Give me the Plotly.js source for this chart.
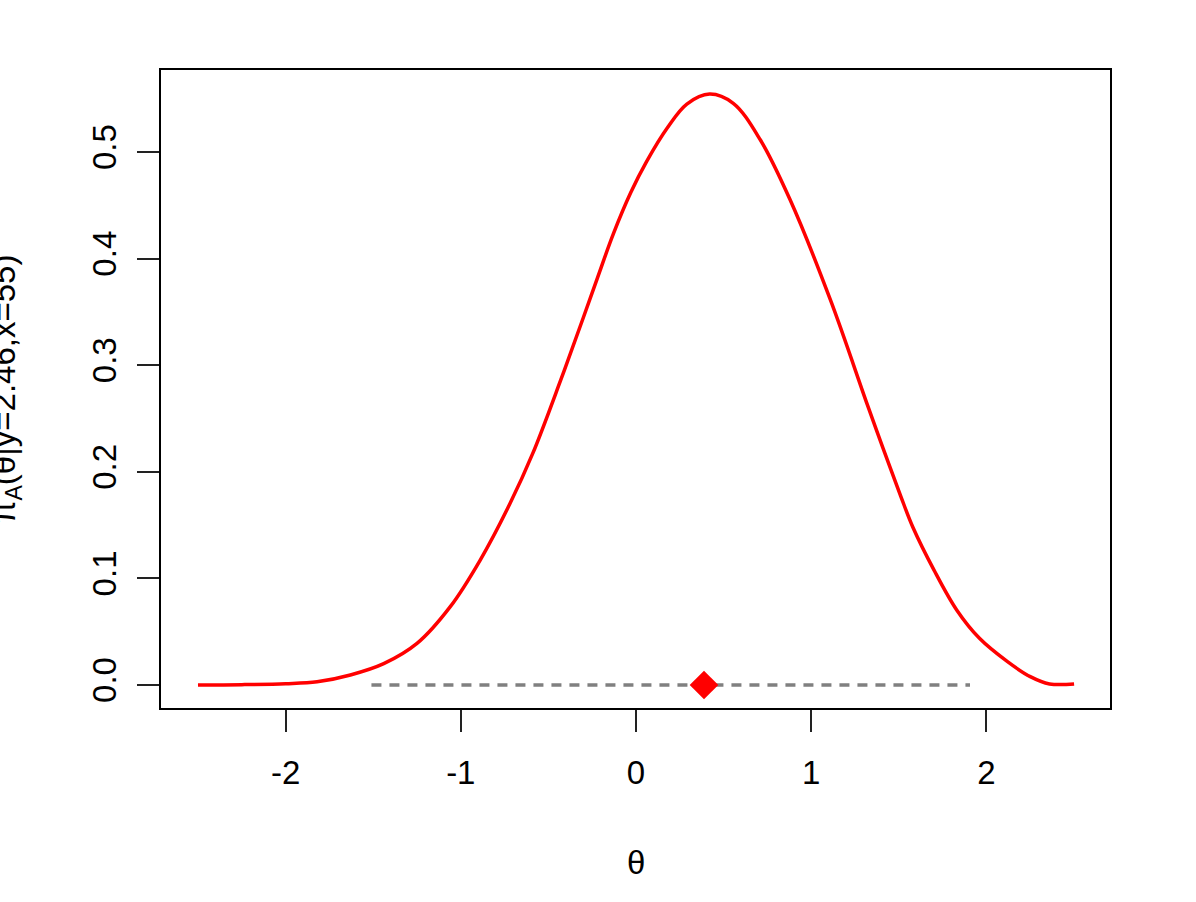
<!DOCTYPE html>
<html>
<head>
<meta charset="utf-8">
<script src="https://cdn.plot.ly/plotly-3.0.1.min.js"></script>
<style>
  html, body { margin: 0; padding: 0; background: #fff; }
  #plot { width: 1196px; height: 902px; }
</style>
</head>
<body>
<div id="plot"></div>
<script>
// posterior density
const thetaVals = [-2.5, -2.25, -2.0, -1.82, -1.63, -1.44, -1.25, -1.06, -0.89, -0.72, -0.59, -0.43, -0.30, -0.22, -0.13,
  -0.03, 0.06, 0.18, 0.29, 0.42, 0.555, 0.71, 0.88, 1.11, 1.32, 1.41, 1.51, 1.58, 1.70, 1.83, 1.96, 2.12, 2.25, 2.36, 2.5];
const densVals = [0.0, 0.0003, 0.0012, 0.003, 0.0094, 0.020, 0.039, 0.0735, 0.117, 0.170, 0.217, 0.286, 0.345, 0.382, 0.423,
  0.462, 0.491, 0.523, 0.545, 0.5544, 0.5457, 0.5113, 0.455, 0.361, 0.263, 0.222, 0.1775, 0.148, 0.108, 0.0704, 0.0438, 0.0219, 0.0078, 0.001, 0.001];

// interval (dashed) and point estimate (diamond)
const intervalX = [-1.51, 1.906];
const intervalY = [0, 0];
const estX = [0.388];
const estY = [0];

const xTicks = [-2, -1, 0, 1, 2];
const xTickText = ['-2', '-1', '0', '1', '2'];
const yTicks = [0, 0.1, 0.2, 0.3, 0.4, 0.5];
const yTickText = ['0.0', '0.1', '0.2', '0.3', '0.4', '0.5'];

const fontFam = 'Liberation Sans, Arial, sans-serif';

const traces = [
  {x: intervalX, y: intervalY, type: 'scatter', mode: 'lines',
   line: {color: '#808080', width: 3.5, dash: '10px,8px'}, hoverinfo: 'skip'},
  {x: thetaVals, y: densVals, type: 'scatter', mode: 'lines',
   line: {color: '#ff0000', width: 3.5, shape: 'spline', smoothing: 1}},
  {x: estX, y: estY, type: 'scatter', mode: 'markers',
   marker: {symbol: 'diamond', size: 22, color: '#ff0000'}}
];

const axisCommon = {
  showline: true, mirror: true, linecolor: '#000', linewidth: 2,
  ticks: 'outside', ticklen: 22, tickwidth: 2, tickcolor: '#222',
  showgrid: false, zeroline: false, automargin: false,
  tickfont: {family: fontFam, size: 33, color: '#000'}
};

const layout = {
  width: 1196, height: 902,
  margin: {l: 161, r: 86, t: 70, b: 194},
  paper_bgcolor: '#fff', plot_bgcolor: '#fff',
  showlegend: false,
  font: {family: fontFam, size: 33, color: '#000'},
  xaxis: Object.assign({}, axisCommon, {
    range: [-2.711, 2.705], tickmode: 'array', tickvals: xTicks, ticktext: xTickText,
    ticklabelstandoff: 12
  }),
  yaxis: Object.assign({}, axisCommon, {
    range: [-0.0216, 0.577], tickmode: 'array', tickvals: yTicks, ticktext: yTickText,
    tickangle: -90, ticklabelstandoff: 8
  }),
  annotations: [
    {text: 'θ', xref: 'paper', yref: 'paper', x: 0.5, y: -0.2414,
     xanchor: 'center', yanchor: 'middle', showarrow: false,
     font: {family: fontFam, size: 33, color: '#000'}},
    {text: 'π<sub>A</sub>(θ|y=2.46,x=55)', xref: 'paper', yref: 'paper', x: -0.163, y: 0.5,
     xanchor: 'center', yanchor: 'middle', textangle: -90, showarrow: false,
     font: {family: fontFam, size: 33, color: '#000'}}
  ]
};

Plotly.newPlot('plot', traces, layout, {displayModeBar: false, staticPlot: true});
</script>
</body>
</html>
